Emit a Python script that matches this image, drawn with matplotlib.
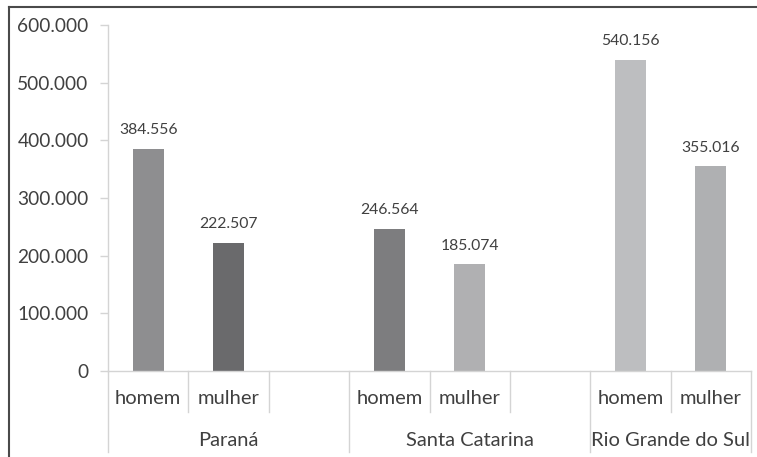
import matplotlib
matplotlib.use("Agg")
import matplotlib.pyplot as plt
from matplotlib.lines import Line2D

plt.rcParams["font.family"] = ["Lato", "DejaVu Sans"]

STATES = ["Paraná", "Santa Catarina", "Rio Grande do Sul"]
SEXES = ["homem", "mulher"]
VALUES = [384556, 222507, 246564, 185074, 540156, 355016]  # homem, mulher per state
BAR_COLORS = ["#8e8e90", "#6a6a6c", "#7d7d7f", "#b0b0b2", "#bdbec0", "#afb0b2"]
Y_TICKS = [0, 100000, 200000, 300000, 400000, 500000, 600000]

TEXT = "#404040"
GRID = "#d4d4d4"


def fmt(v):
    # portuguese style thousands separator
    return "{:,}".format(v).replace(",", ".")


W, H = 757, 457
fig = plt.figure(figsize=(W / 100, H / 100), dpi=100)
ax = fig.add_axes([108 / W, 86 / H, (751 - 108) / W, 346 / H])

# each state takes 3 slots (the last one only 2), bars sit in the first two
slots_per_group = [3, 3, 2]
positions = []
start = 0
for n in slots_per_group:
    positions += [start, start + 1]
    start += n

bars = ax.bar(positions, VALUES, width=0.39, color=BAR_COLORS)
for x, v in zip(positions, VALUES):
    ax.annotate(fmt(v), (x, v), xytext=(0, 13.5), textcoords="offset points",
                ha="center", va="center", fontsize=11.3, color=TEXT)

ax.set_xlim(-0.5, start - 0.5)
ax.set_ylim(0, 600000)
ax.set_yticks(Y_TICKS)
ax.set_yticklabels([fmt(t) for t in Y_TICKS])
ax.tick_params(axis="y", length=6, width=1, color=GRID, pad=8,
               labelsize=13.8, labelcolor=TEXT)
ax.set_xticks([])

for side in ["top", "right"]:
    ax.spines[side].set_visible(False)
for side in ["left", "bottom"]:
    ax.spines[side].set_color(GRID)
    ax.spines[side].set_linewidth(1)

# two-level category axis
trans = ax.get_xaxis_transform()
short_y = -41 / 346
long_y = -81 / 346
start = 0
for gi, n in enumerate(slots_per_group):
    ax.add_line(Line2D([start - 0.5] * 2, [0, long_y], transform=trans,
                       color=GRID, lw=1, clip_on=False))
    for k in range(1, n):
        ax.add_line(Line2D([start + k - 0.5] * 2, [0, short_y], transform=trans,
                           color=GRID, lw=1, clip_on=False))
    for k, sex in enumerate(SEXES):
        ax.text(start + k, -27 / 346, sex, transform=trans, ha="center",
                va="center", fontsize=14.5, color=TEXT)
    ax.text(start + (n - 1) / 2, -69 / 346, STATES[gi], transform=trans,
            ha="center", va="center", fontsize=14.5, color=TEXT)
    start += n
ax.add_line(Line2D([start - 0.5] * 2, [0, long_y], transform=trans,
                   color=GRID, lw=1, clip_on=False))

# outer frame (left and top edges only)
fig.add_artist(Line2D([9 / W, 9 / W], [0, 1 - 7 / H], transform=fig.transFigure,
                      color="#4a4a4a", lw=1.5))
fig.add_artist(Line2D([9 / W, 1], [1 - 7 / H, 1 - 7 / H], transform=fig.transFigure,
                      color="#4a4a4a", lw=1.5))

fig.savefig("out.png", dpi=100)
